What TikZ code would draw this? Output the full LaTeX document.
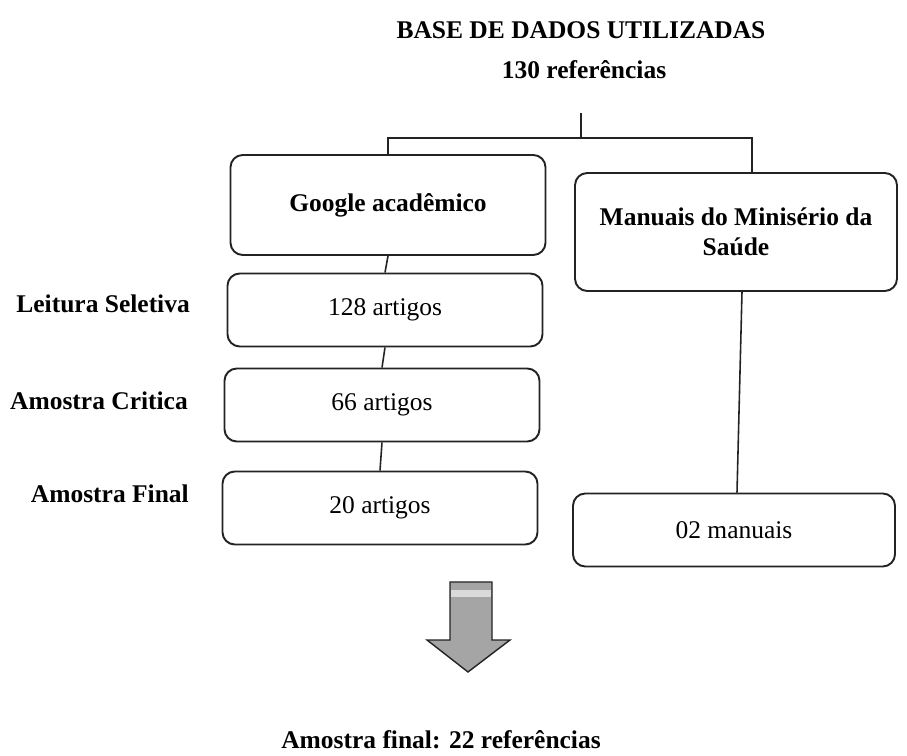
\documentclass[tikz,border=0pt]{standalone}
\usepackage{fontspec}
\setmainfont{Liberation Serif}
\usetikzlibrary{positioning,calc}
\definecolor{flLine}  {RGB}{ 35, 35, 35}
\definecolor{flArrow} {RGB}{165,165,165}
\definecolor{flArrowL}{RGB}{218,218,218}

\begin{document}
\begin{tikzpicture}[x=0.2mm,y=-0.2mm,
  every node/.style={font=\fontsize{14.5}{17}\selectfont},
  head/.style={font=\fontsize{14.5}{17}\selectfont\bfseries},
  src/.style={draw=flLine,line width=1.1pt,rounded corners=7pt,minimum width=6.3cm,
              minimum height=2cm,align=center,font=\fontsize{14.5}{17}\selectfont\bfseries},
  stage/.style={draw=flLine,line width=1.1pt,rounded corners=7pt,minimum width=6.3cm,
                minimum height=1.46cm},
  tag/.style={font=\fontsize{14.5}{17}\selectfont\bfseries,anchor=east},
  link/.style={draw=flLine,line width=0.9pt}
]
\useasboundingbox (0,0) rectangle (907,756);

\node[head] (titulo) at (581,30) {BASE DE DADOS UTILIZADAS};
\node[head] (total)  at (584,70) {130 referências};

\node[src] (google) at (388,205) {Google acadêmico};
\node[src,minimum width=6.44cm,minimum height=2.36cm] (manuais) at (736,232)
   {Manuais do Minisério da\\Saúde};
\node[stage] (art128) at (385,310) {128 artigos};
\node[stage] (art66)  at (382,405) {66 artigos};
\node[stage] (art20)  at (380,508) {20 artigos};
\node[stage,minimum width=6.44cm] (man02) at (734,530) {02 manuais};

\node[tag] (leitura)  at (196,304) {Leitura Seletiva};
\node[tag] (critica)  at (194,401) {Amostra Critica};
\node[tag] (amFinal)  at (195,494) {Amostra Final};

% tree from the total down to the two sources
\coordinate (split) at (581,113);
\coordinate (hub)   at (581,138);
\draw[link] (split) -- (hub);
\draw[link] (google.north) |- (hub) -| ([xshift=3.2mm]manuais.north);

\draw[link] (google.south) -- (art128.north);
\draw[link] (art128.south) -- (art66.north);
\draw[link] (art66.south)  -- (art20.north);
\draw[link] ([xshift=1.2mm]manuais.south) -- ([xshift=0.6mm]man02.north);

% block arrow
\filldraw[fill=flArrow,draw=flLine,line width=0.8pt]
  (450,582) -- (492,582) -- (492,640) -- (510,640) -- (468,672)
  -- (427,640) -- (450,640) -- cycle;
\fill[flArrowL] (451,590) rectangle (491,597);

\node[head] (final) at (441,740) {Amostra final: 22 referências};
\end{tikzpicture}
\end{document}
